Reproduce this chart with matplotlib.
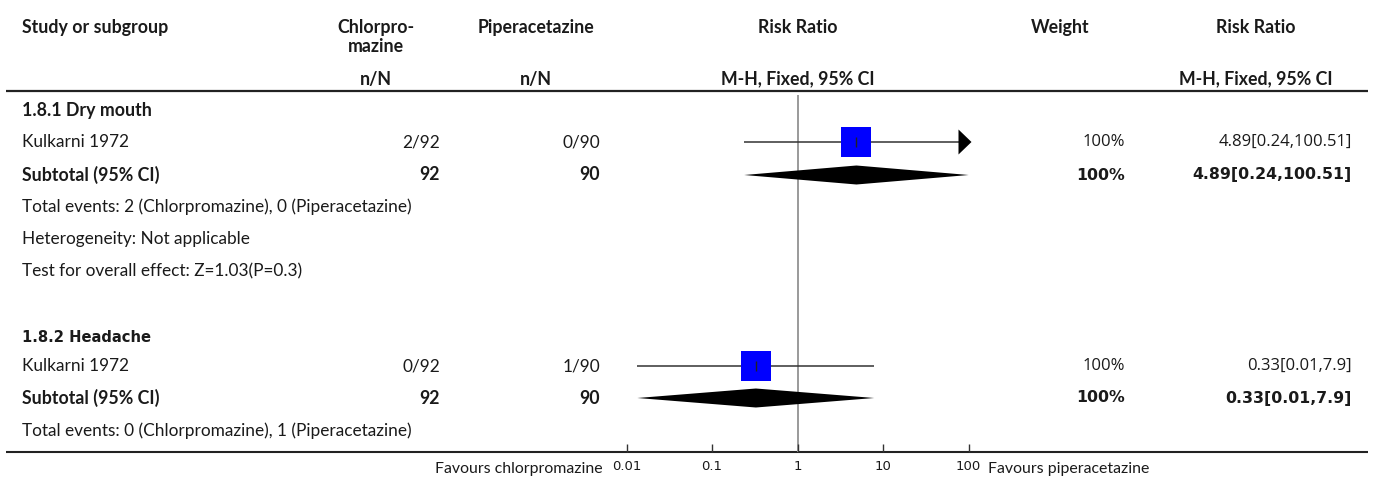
import matplotlib
matplotlib.use("Agg")
import matplotlib.pyplot as plt
import numpy as np
from matplotlib.patches import Polygon

# ---- data -------------------------------------------------------------
subgroups = ["1.8.1 Dry mouth", "1.8.2 Headache"]
studies = ["Kulkarni 1972", "Kulkarni 1972"]
events_cpz = [2, 0]
total_cpz = [92, 92]
events_pip = [0, 1]
total_pip = [90, 90]
rr = [4.89, 0.326]
rr_lo = [0.238, 0.0134]
rr_hi = [100.51, 7.90]
weight = [100, 100]
heterogeneity = ["Not applicable", None]
overall_effect = ["Z=1.03(P=0.3)", None]
ticks = [0.01, 0.1, 1, 10, 100]
tick_labels = ["0.01", "0.1", "1", "10", "100"]

# ---- layout (pixels, y grows downwards) --------------------------------
W, H = 1375, 478
LAB = "Lato"
NUM = "Open Sans"
NUM_B = "DejaVu Sans"
INK = "#1a1a1a"
X_LEFT = 22
X_CPZ_C, X_CPZ_R = 376, 440
X_PIP_C, X_PIP_R = 536, 600
X_RR_C = 798
X_W_C, X_W_R = 1060, 1125
X_RR2_C, X_RR2_R = 1256, 1352
AX_L, AX_R = 626.5, 968.5
Y_TOP, Y_AXIS = 95, 452


def fmt(v):
    return f"{v:.2f}".rstrip("0").rstrip(".")


fig = plt.figure(figsize=(W / 100, H / 100), dpi=100)
bg = fig.add_axes([0, 0, 1, 1])
bg.set_xlim(0, W)
bg.set_ylim(H, 0)
bg.axis("off")

fax = fig.add_axes([AX_L / W, (H - Y_AXIS) / H, (AX_R - AX_L) / W, (Y_AXIS - Y_TOP) / H])
fax.set_xscale("log")
fax.set_xlim(ticks[0], ticks[-1])
fax.set_ylim(Y_AXIS, Y_TOP)
fax.patch.set_alpha(0)
for s in ("top", "left", "right", "bottom"):
    fax.spines[s].set_visible(False)
fax.set_yticks([])
fax.set_xticks(ticks)
fax.set_xticklabels(tick_labels)
fax.xaxis.set_minor_locator(matplotlib.ticker.NullLocator())
fax.tick_params(axis="x", direction="in", length=6, width=1, color="#333333",
                pad=6, labelsize=9.5, labelcolor=INK)
fax.axvline(1, color="#9a9a9a", lw=1.4, zorder=1)


def txt(x, y, s, ha="left", bold=False, fam=LAB, size=None):
    if size is None:
        if fam == LAB:
            size = 12.8 if bold else 12.4
        else:
            size = 11.3 if bold else 12.0
    bg.text(x, y, s, ha=ha, va="center", family=fam, fontsize=size,
            fontweight="bold" if bold else "normal", color=INK)


# header
txt(X_LEFT, 27, "Study or subgroup", bold=True)
bg.text(X_CPZ_C, 37, "Chlorpro-\nmazine", ha="center", va="center", family=LAB,
        fontsize=12.8, fontweight="bold", color=INK, linespacing=1.2)
txt(X_PIP_C, 27, "Piperacetazine", ha="center", bold=True)
txt(X_RR_C, 27, "Risk Ratio", ha="center", bold=True)
txt(X_W_C, 27, "Weight", ha="center", bold=True)
txt(X_RR2_C, 27, "Risk Ratio", ha="center", bold=True)
txt(X_CPZ_C, 79, "n/N", ha="center", bold=True)
txt(X_PIP_C, 79, "n/N", ha="center", bold=True)
txt(X_RR_C, 79, "M-H, Fixed, 95% CI", ha="center", bold=True)
txt(X_RR2_C, 79, "M-H, Fixed, 95% CI", ha="center", bold=True)
bg.plot([6, 1368], [91, 91], color="#222222", lw=1.6, solid_capstyle="butt")

# bottom axis line across the table
bg.plot([6, 1368], [Y_AXIS, Y_AXIS], color="#222222", lw=1.5, solid_capstyle="butt")
bg.text(603, 469, "Favours chlorpromazine", ha="right", va="center", family=LAB,
        fontsize=11.4, color=INK)
bg.text(988, 469, "Favours piperacetazine", ha="left", va="center", family=LAB,
        fontsize=11.4, color=INK)

# arrow tip sits just beyond the right end of the scale
tip_disp = fax.transData.transform((ticks[-1], Y_TOP))[0] + 3
x_tip = fax.transData.inverted().transform((tip_disp, 0))[0]


def ci_arrow(y):
    yd = fax.transData.transform((1, y))[1]
    pts = [(tip_disp, yd), (tip_disp - 13, yd + 12.5), (tip_disp - 13, yd - 12.5)]
    pts = fax.transData.inverted().transform(pts)
    fax.add_patch(Polygon(pts, closed=True, color="black", lw=0, zorder=4, clip_on=False))
    return pts[1][0]


row_y = [(110, 142, 175, 207, 239, 271), (337, 366, 398, 431, None, None)]
for i, (ys, ye, yt, yev, yh, yz) in enumerate(row_y):
    if i == 1:
        txt(X_LEFT, ys, subgroups[i], bold=True, fam=NUM_B, size=10.6)
    else:
        txt(X_LEFT, ys, subgroups[i], bold=True)

    # study row
    txt(X_LEFT, ye, studies[i])
    txt(X_CPZ_R, ye, f"{events_cpz[i]}/{total_cpz[i]}", ha="right")
    txt(X_PIP_R, ye, f"{events_pip[i]}/{total_pip[i]}", ha="right")
    txt(X_W_R, ye, f"{weight[i]}%", ha="right", fam=NUM)
    label = f"{fmt(rr[i])}[{fmt(rr_lo[i])},{fmt(rr_hi[i])}]"
    txt(X_RR2_R, ye, label, ha="right", fam=NUM)

    hi_end = rr_hi[i]
    if rr_hi[i] > ticks[-1]:
        hi_end = ci_arrow(ye)
    fax.plot([rr_lo[i], hi_end], [ye, ye], color="#333333", lw=1.1, zorder=2,
             solid_capstyle="butt", clip_on=False)
    ms = 22.3 * np.sqrt(weight[i] / 100)
    fax.plot(rr[i], ye, marker="s", ms=ms, mew=0, color="#0000ff", zorder=3)
    fax.plot(rr[i], ye, marker="|", ms=6.5, mew=1, color="#222222", zorder=4)

    # subtotal row
    txt(X_LEFT, yt, "Subtotal (95% CI)", bold=True)
    txt(X_CPZ_R, yt, f"{total_cpz[i]}", ha="right", bold=True)
    txt(X_PIP_R, yt, f"{total_pip[i]}", ha="right", bold=True)
    txt(X_W_R, yt, f"{weight[i]}%", ha="right", bold=True, fam=NUM_B)
    txt(X_RR2_R, yt, label, ha="right", bold=True, fam=NUM_B)
    d_hi = min(rr_hi[i], x_tip)
    fax.add_patch(Polygon([(rr_lo[i], yt), (rr[i], yt - 9.5), (d_hi, yt), (rr[i], yt + 9.5)],
                          closed=True, color="black", lw=0, zorder=3, clip_on=False))

    txt(X_LEFT, yev, f"Total events: {events_cpz[i]} (Chlorpromazine), "
                     f"{events_pip[i]} (Piperacetazine)")
    if heterogeneity[i]:
        txt(X_LEFT, yh, f"Heterogeneity: {heterogeneity[i]}")
    if overall_effect[i]:
        txt(X_LEFT, yz, f"Test for overall effect: {overall_effect[i]}")

fig.savefig("out.png", dpi=100)
